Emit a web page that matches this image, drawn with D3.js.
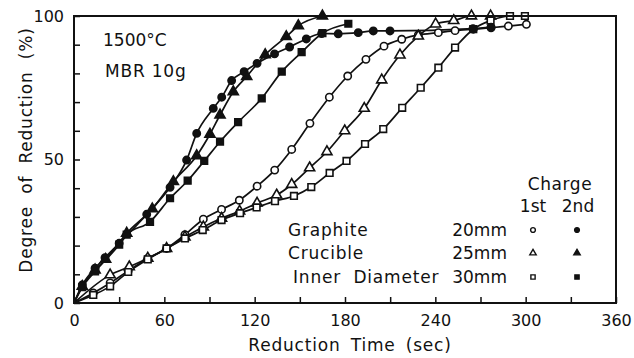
<!DOCTYPE html>
<html>
<head>
<meta charset="utf-8">
<script src="https://cdn.jsdelivr.net/npm/d3@7"></script>
<style>
  html, body { margin: 0; padding: 0; background: #fff; }
  svg { display: block; }
  text { font-family: "DejaVu Sans", sans-serif; fill: #111; }
</style>
</head>
<body>
<svg id="chart" width="634" height="358"></svg>
<script>
// ---- data ----
const xTicks = [0, 30, 60, 90, 120, 150, 180, 210, 240, 270, 300, 330, 360];
const xTickLabels = ["0", "", "60", "", "120", "", "180", "", "240", "", "300", "", "360"];
const yTicks = [0, 10, 20, 30, 40, 50, 60, 70, 80, 90, 100];
const yTickLabels = ["0", "", "", "", "", "50", "", "", "", "", "100"];

// 1st charge (open markers)
const open20T = [12.8, 24, 36, 49, 61.5, 73.7, 85.9, 98, 109.8, 121.6, 133.3, 144.6, 156.7, 169.6, 181.8, 193.9, 205.9, 217.7, 228.7, 242, 253.1, 265.2, 277, 288.5, 300.5];
const open20R = [3.5, 7.0, 11.2, 15.5, 19.0, 23.8, 29.2, 32.6, 35.8, 40.7, 46.3, 53.5, 62.6, 71.7, 79.1, 84.9, 89.5, 91.9, 93.4, 94.2, 94.9, 95.4, 95.9, 96.5, 97.1];
const open25T = [24, 36.7, 49, 61.5, 73.7, 85.9, 98, 110, 121.6, 134.6, 144.6, 156.5, 168, 179.8, 192.8, 204.4, 216.5, 228.7, 240.2, 252.2, 264, 276.7];
const open25R = [9.8, 12.6, 15.6, 19.0, 23.0, 26.5, 29.5, 32.0, 34.8, 37.6, 41.3, 47.1, 52.7, 60.0, 67.8, 77.7, 86.4, 93.0, 97.2, 98.4, 100, 100];
const open30T = [12.8, 24, 36, 49, 61.5, 73.7, 85.5, 98, 110.3, 121.3, 133.5, 146.1, 157.6, 169.8, 181, 193.3, 205.4, 218, 230.3, 242, 253.1, 265.2, 276.7, 289.6, 299.5];
const open30R = [2.8, 5.8, 10.8, 15.2, 19.0, 22.5, 25.4, 28.9, 31.3, 33.3, 35.5, 37.3, 40.4, 45.3, 49.5, 55.4, 60.6, 68.0, 75.0, 82.0, 89.0, 95.4, 98.4, 100, 100];

// 2nd charge (filled markers)
const fill20T = [5.5, 14, 20.6, 30, 48.3, 63.8, 74.8, 81.5, 92.5, 98.1, 104.7, 113, 121.6, 133.2, 143.2, 154.3, 164.5, 175.5, 188.8, 198.8, 209.9, 265, 277];
const fill20R = [6.3, 12.1, 15.8, 20.8, 30.9, 40.3, 49.8, 59.1, 67.8, 71.7, 77.5, 80.6, 83.5, 86.8, 89.2, 92.0, 93.9, 93.8, 94.2, 94.8, 94.8, 95.6, 96.1];
const fill25T = [5.5, 14, 21, 35, 52, 66, 81.5, 90.3, 97, 105.8, 114.7, 127, 141, 149, 165];
const fill25R = [5.8, 11.5, 15.2, 24.3, 32.8, 42.3, 51.3, 58.8, 65.5, 73.6, 78.9, 86.5, 92.8, 96.6, 100];
const fill30T = [5.5, 14, 30, 35, 50.5, 63.8, 75.5, 86.5, 97, 109, 124.7, 138, 151.2, 165, 182.2];
const fill30R = [5.5, 11.0, 20.3, 23.8, 28.3, 36.5, 42.6, 49.5, 56.2, 63.0, 71.3, 80.6, 87.4, 94.0, 97.3];

const legendRows = ["Graphite", "Crucible", "Inner  Diameter"];
const legendSizes = ["20mm", "25mm", "30mm"];

// ---- drawing ----
const svg = d3.select("#chart");
const x = d3.scaleLinear().domain([0, 360]).range([74, 616]);
const y = d3.scaleLinear().domain([0, 100]).range([303, 16]);

const series = [
  { t: open20T, r: open20R, shape: d3.symbolCircle, filled: false },
  { t: open25T, r: open25R, shape: d3.symbolTriangle, filled: false },
  { t: open30T, r: open30R, shape: d3.symbolSquare, filled: false },
  { t: fill20T, r: fill20R, shape: d3.symbolCircle, filled: true },
  { t: fill25T, r: fill25R, shape: d3.symbolTriangle, filled: true },
  { t: fill30T, r: fill30R, shape: d3.symbolSquare, filled: true }
];

function symSize(shape, small) {
  if (shape === d3.symbolCircle) return small ? 18 : 42;
  if (shape === d3.symbolTriangle) return small ? 18 : 44;
  return small ? 18 : 44;
}

const line = d3.line().x(d => x(d[0])).y(d => y(d[1])).curve(d3.curveMonotoneX);

series.forEach(s => {
  const pts = [[0, 0]].concat(s.t.map((t, i) => [t, s.r[i]]));
  svg.append("path")
    .attr("d", line(pts))
    .attr("fill", "none")
    .attr("stroke", "#111")
    .attr("stroke-width", 1.7);
});

series.forEach(s => {
  svg.append("g").selectAll("path")
    .data(s.t.map((t, i) => [t, s.r[i]]))
    .join("path")
    .attr("transform", d => `translate(${x(d[0])},${y(d[1])})`)
    .attr("d", d3.symbol().type(s.shape).size(symSize(s.shape, false)))
    .attr("fill", s.filled ? "#111" : "#fff")
    .attr("stroke", "#111")
    .attr("stroke-width", 1.6);
});

// axes
const yAxis = d3.axisLeft(y).tickValues(yTicks).tickSize(-6).tickPadding(10)
  .tickFormat((d, i) => yTickLabels[i]);
const gy = svg.append("g").attr("transform", "translate(74,0)").call(yAxis);
const xAxis = d3.axisBottom(x).tickValues(xTicks).tickSize(-6).tickPadding(12)
  .tickFormat((d, i) => xTickLabels[i]);
const gx = svg.append("g").attr("transform", "translate(0,303)").call(xAxis);
[gx, gy].forEach(g => {
  g.select(".domain").remove();
  g.selectAll(".tick line").attr("stroke", "#111").attr("stroke-width", 1.5);
  g.selectAll(".tick text").attr("font-family", "DejaVu Sans").attr("font-size", 16).attr("fill", "#111");
});

// frame
svg.append("rect")
  .attr("x", x(0)).attr("y", y(100))
  .attr("width", x(360) - x(0)).attr("height", y(0) - y(100))
  .attr("fill", "none").attr("stroke", "#111").attr("stroke-width", 2);

// axis titles
svg.append("text")
  .attr("x", 350).attr("y", 351)
  .attr("text-anchor", "middle")
  .attr("font-size", 17).attr("letter-spacing", 0.8).attr("word-spacing", 4)
  .text("Reduction Time (sec)");
svg.append("text")
  .attr("transform", "translate(32,150) rotate(-90)")
  .attr("text-anchor", "middle")
  .attr("font-size", 17).attr("letter-spacing", 0.8).attr("word-spacing", 6)
  .text("Degree of Reduction (%)");

// annotations
svg.append("text").attr("x", 103).attr("y", 46).attr("font-size", 17).text("1500°C");
svg.append("text").attr("x", 105).attr("y", 77).attr("font-size", 17).attr("letter-spacing", 0.8).text("MBR 10g");

// legend
svg.append("text").attr("x", 560).attr("y", 190).attr("text-anchor", "middle").attr("font-size", 17).attr("letter-spacing", 0.6).text("Charge");
svg.append("text").attr("x", 533).attr("y", 212).attr("text-anchor", "middle").attr("font-size", 17).text("1st");
svg.append("text").attr("x", 578).attr("y", 212).attr("text-anchor", "middle").attr("font-size", 17).text("2nd");

const rowY = [236, 259, 283];
const rowX = [288, 288, 293];
const legendShapes = [d3.symbolCircle, d3.symbolTriangle, d3.symbolSquare];
legendRows.forEach((txt, i) => {
  svg.append("text").attr("x", rowX[i]).attr("y", rowY[i]).attr("font-size", 17)
    .attr("letter-spacing", 0.8).attr("xml:space", "preserve").style("white-space", "pre").text(txt);
  svg.append("text").attr("x", 507).attr("y", rowY[i]).attr("text-anchor", "end").attr("font-size", 17)
    .text(legendSizes[i]);
  [false, true].forEach((filled, j) => {
    svg.append("path")
      .attr("transform", `translate(${j ? 577 : 533},${rowY[i] - 6})`)
      .attr("d", d3.symbol().type(legendShapes[i]).size(symSize(legendShapes[i], true)))
      .attr("fill", filled ? "#111" : "#fff")
      .attr("stroke", "#111").attr("stroke-width", 1.4);
  });
});
</script>
</body>
</html>
